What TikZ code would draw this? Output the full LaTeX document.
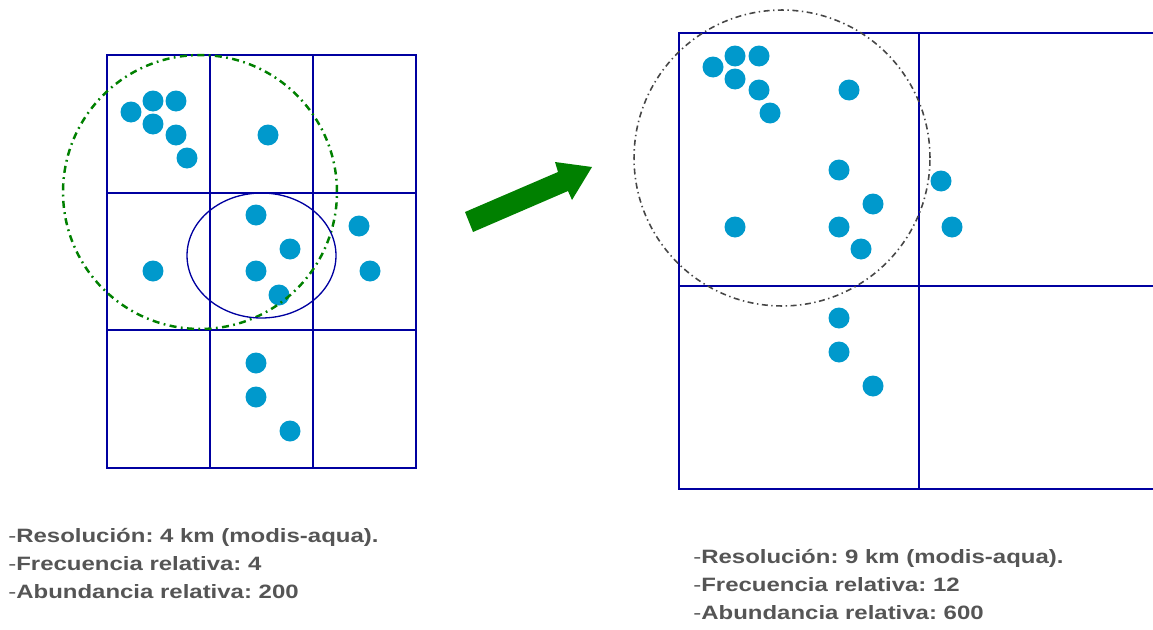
\documentclass[tikz,border=0pt]{standalone}
\usepackage{fontspec}
\setmainfont{Liberation Sans}
\usetikzlibrary{positioning}
\frenchspacing

\definecolor{gridblue}{RGB}{0,0,160}
\definecolor{dotblue}{RGB}{0,153,204}
\definecolor{txtgray}{RGB}{85,85,85}
\definecolor{arrgreen}{RGB}{0,128,0}
\definecolor{ringgray}{RGB}{70,70,70}

\newcommand{\caprow}[1]{\scalebox{1.24}[1]{-\textbf{#1}}}

\begin{document}
\begin{tikzpicture}[x=0.02cm,y=-0.02cm,
    grid/.style={draw=gridblue,line width=1.35pt},
    dot/.style={circle,fill=dotblue,inner sep=0pt,minimum size=0.42cm},
    info/.style={anchor=base west,inner sep=0pt,text=txtgray,font=\fontsize{11}{12}\selectfont}]
\useasboundingbox (0,0) rectangle (1153,629);
% left grid, 4 km
\draw[grid] (107,55) rectangle (416,468);
\draw[grid] (210,55) -- (210,468) (313,55) -- (313,468)
    (107,193) -- (416,193) (107,330) -- (416,330);
% right grid, 9 km
\draw[grid] (1153,33) -- (679,33) -- (679,489) -- (1153,489);
\draw[grid] (919,33) -- (919,489) (679,286) -- (1153,286);
% points
\foreach \x/\y [count=\i] in {131/112,153/101,176/101,153/124,176/135,187/158,
    268/135,256/215,290/249,256/271,279/295,153/271,359/226,370/271,
    256/363,256/397,290/431}
  \node[dot] (l\i) at (\x,\y) {};
\foreach \x/\y [count=\i] in {713/67,735/56,759/56,735/79,759/90,770/113,
    849/90,839/170,873/204,839/227,861/249,735/227,941/181,952/227,
    839/318,839/352,873/386}
  \node[dot] (r\i) at (\x,\y) {};
% search areas
\draw[arrgreen,line width=1.4pt,dash pattern=on 4pt off 2.5pt on 1pt off 2.5pt]
    (200,192) circle [radius=2.74cm];
\draw[gridblue,line width=0.75pt] (261.5,255.5) ellipse [x radius=1.49cm,y radius=1.25cm];
\draw[ringgray,line width=0.9pt,dash pattern=on 3.4pt off 2pt on 0.8pt off 2pt]
    (782,158) circle [radius=2.96cm];
% arrow
\fill[arrgreen] (465,212) -- (558,172) -- (555,162) -- (592,167) -- (572,200)
    -- (568,191) -- (473,232) -- cycle;
% captions
\node[info] (res1) at (8,542) {\caprow{Resolución: 4 km (modis-aqua).}};
\node[info] (fre1) at (8,570) {\caprow{Frecuencia relativa: 4}};
\node[info] (abu1) at (8,598) {\caprow{Abundancia relativa: 200}};
\node[info] (res2) at (693,563) {\caprow{Resolución: 9 km (modis-aqua).}};
\node[info] (fre2) at (693,591) {\caprow{Frecuencia relativa: 12}};
\node[info] (abu2) at (693,619) {\caprow{Abundancia relativa: 600}};
\end{tikzpicture}
\end{document}
